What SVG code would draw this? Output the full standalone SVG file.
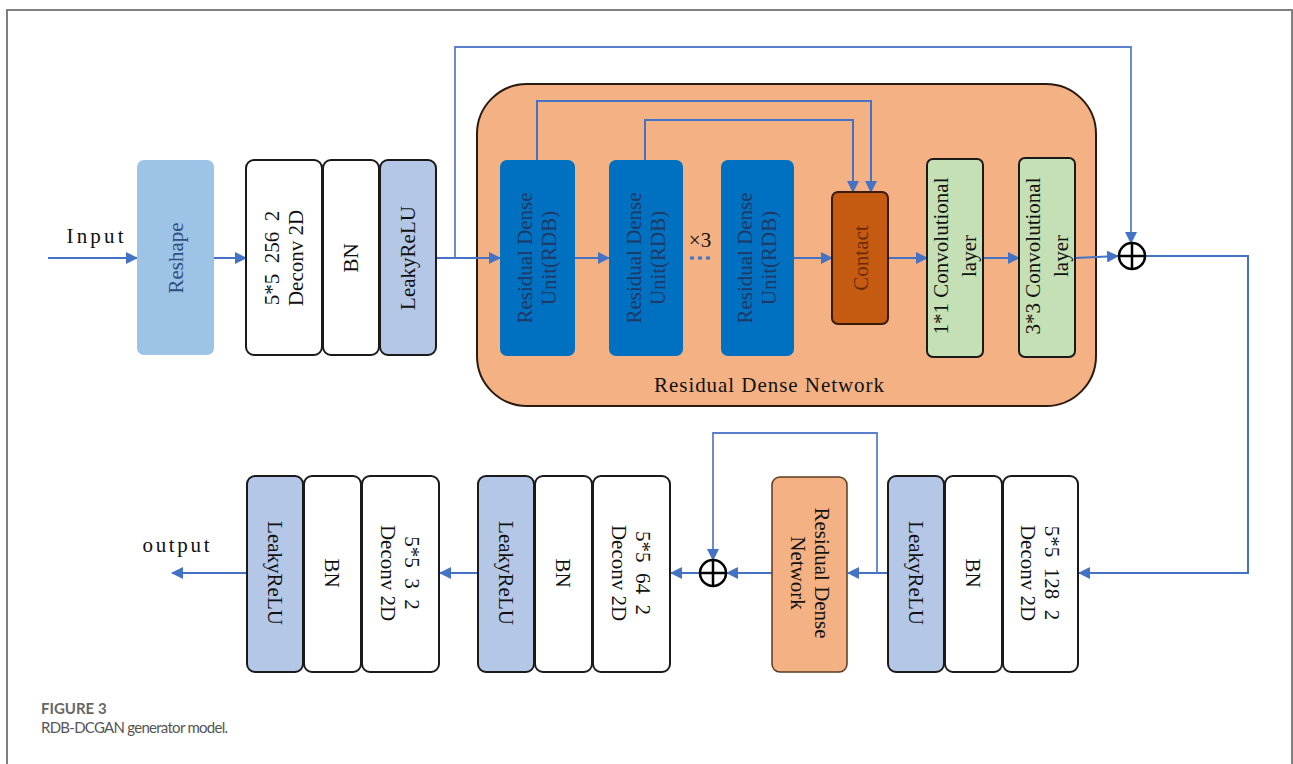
<svg xmlns="http://www.w3.org/2000/svg" width="1293" height="764" viewBox="0 0 1293 764">
<defs>
<marker id="ah" markerWidth="12" markerHeight="12" viewBox="0 0 12 12" refX="11" refY="6" orient="auto" markerUnits="userSpaceOnUse">
<path d="M0,0 L12,6 L0,12 Z" fill="#4472c4"/>
</marker>
<style>
.t{font-family:"Liberation Serif","Times New Roman",serif;font-size:21px;fill:#111;text-anchor:middle;dominant-baseline:central;white-space:pre}
.box{stroke:#1a1a1a;stroke-width:2}
.w{fill:#fff}
.lk{fill:#b4c7e7}
.c{fill:none;stroke:#4472c4;stroke-width:2}
.cl{fill:none;stroke:#5b7fcf;stroke-width:1.8}
.op{fill:none;stroke:#000;stroke-width:2.5}
</style>
</defs>
<rect x="7" y="10" width="1285" height="800" fill="#fff" stroke="#808080" stroke-width="2"/>

<g id="rdn-container">
<rect x="477" y="84" width="619" height="322" rx="50" fill="#f4b183" stroke="#2a1a10" stroke-width="2"/>
<text class="t" x="769" y="385" font-size="23" textLength="230">Residual Dense Network</text>
</g>

<g id="connectors">
<line class="c" x1="48" y1="258" x2="137" y2="258" marker-end="url(#ah)"/>
<line class="c" x1="214" y1="258" x2="246" y2="258" marker-end="url(#ah)"/>
<line class="c" x1="437" y1="258" x2="500" y2="258" marker-end="url(#ah)"/>
<polyline class="cl" points="455,258 455,47 1131,47 1131,243" marker-end="url(#ah)"/>
<line class="c" x1="575" y1="258" x2="609" y2="258" marker-end="url(#ah)"/>
<line class="c" x1="794" y1="258" x2="832" y2="258" marker-end="url(#ah)"/>
<polyline class="c" points="537,160 537,101 871,101 871,192" marker-end="url(#ah)"/>
<polyline class="c" points="645,160 645,120 853,120 853,192" marker-end="url(#ah)"/>
<line class="c" x1="888" y1="258" x2="927" y2="258" marker-end="url(#ah)"/>
<line class="c" x1="983" y1="258" x2="1019" y2="258" marker-end="url(#ah)"/>
<line class="c" x1="1075" y1="258" x2="1118" y2="256" marker-end="url(#ah)"/>
<polyline class="c" points="1145,256 1248,256 1248,573 1079,573" marker-end="url(#ah)"/>
<line class="c" x1="888" y1="573" x2="848" y2="573" marker-end="url(#ah)"/>
<polyline class="cl" points="877,573 877,433 713,433 713,560" marker-end="url(#ah)"/>
<line class="c" x1="772" y1="573" x2="727" y2="573" marker-end="url(#ah)"/>
<line class="c" x1="700" y1="573" x2="671" y2="573" marker-end="url(#ah)"/>
<line class="c" x1="478" y1="573" x2="440" y2="573" marker-end="url(#ah)"/>
<line class="c" x1="247" y1="573" x2="172" y2="573" marker-end="url(#ah)"/>
<line x1="690" y1="258" x2="712" y2="258" stroke="#4472c4" stroke-width="3" stroke-dasharray="4,4"/>
</g>

<g id="labels">
<text class="t" x="95" y="236" font-size="26" textLength="57">Input</text>
<text class="t" x="176" y="545" font-size="26" textLength="67">output</text>
<text class="t" x="700" y="240" font-size="20">×3</text>
</g>

<g id="reshape">
<rect x="137" y="160" width="77" height="195" rx="7" fill="#9dc3e6"/>
<text class="t" transform="translate(176,258) rotate(-90)" font-size="23" style="fill:#2f4f7f">Reshape</text>
</g>

<g id="deconv256">
<rect class="box w" x="246" y="160" width="76" height="195" rx="8"/>
<text class="t" transform="translate(284,258) rotate(-90)" xml:space="preserve"><tspan x="0" y="-12">5*5  256  2</tspan><tspan x="0" y="12">Deconv 2D</tspan></text>
</g>
<g id="bn1">
<rect class="box w" x="323" y="160" width="56" height="195" rx="8"/>
<text class="t" transform="translate(351,258) rotate(-90)">BN</text>
</g>
<g id="leaky1">
<rect class="box lk" x="380" y="160" width="56" height="195" rx="8"/>
<text class="t" transform="translate(408,258) rotate(-90)">LeakyReLU</text>
</g>

<g id="rdb1">
<rect x="500" y="160" width="75" height="196" rx="7" fill="#0070c0"/>
<text class="t" transform="translate(537,258) rotate(-90)" style="fill:#1f3864"><tspan x="0" y="-12">Residual Dense</tspan><tspan x="0" y="12">Unit(RDB)</tspan></text>
</g>
<g id="rdb2">
<rect x="609" y="160" width="74" height="196" rx="7" fill="#0070c0"/>
<text class="t" transform="translate(646,258) rotate(-90)" style="fill:#1f3864"><tspan x="0" y="-12">Residual Dense</tspan><tspan x="0" y="12">Unit(RDB)</tspan></text>
</g>
<g id="rdb3">
<rect x="721" y="160" width="73" height="196" rx="7" fill="#0070c0"/>
<text class="t" transform="translate(757,258) rotate(-90)" style="fill:#1f3864"><tspan x="0" y="-12">Residual Dense</tspan><tspan x="0" y="12">Unit(RDB)</tspan></text>
</g>
<g id="contact">
<rect x="832" y="192" width="56" height="132" rx="6" fill="#c55a11" stroke="#3a1a08" stroke-width="2"/>
<text class="t" transform="translate(861,258) rotate(-90)" style="fill:#6b2a08">Contact</text>
</g>
<g id="conv1">
<rect class="box" x="927" y="159" width="56" height="198" rx="6" fill="#c5e0b4"/>
<text class="t" transform="translate(955,256) rotate(-90)" font-size="22"><tspan x="0" y="-14">1*1 Convolutional</tspan><tspan x="0" y="14">layer</tspan></text>
</g>
<g id="conv3">
<rect class="box" x="1019" y="158" width="56" height="199" rx="6" fill="#c5e0b4"/>
<text class="t" transform="translate(1047,256) rotate(-90)" font-size="22"><tspan x="0" y="-14">3*3 Convolutional</tspan><tspan x="0" y="14">layer</tspan></text>
</g>
<g id="add1">
<circle class="op" cx="1132" cy="256" r="13"/>
<line class="op" x1="1119" y1="256" x2="1145" y2="256"/>
<line class="op" x1="1132" y1="243" x2="1132" y2="269"/>
</g>

<g id="deconv128">
<rect class="box w" x="1003" y="476" width="75" height="196" rx="8"/>
<text class="t" transform="translate(1040,573) rotate(90)" xml:space="preserve"><tspan x="0" y="-12">5*5  128  2</tspan><tspan x="0" y="12">Deconv 2D</tspan></text>
</g>
<g id="bn2">
<rect class="box w" x="945" y="476" width="57" height="196" rx="8"/>
<text class="t" transform="translate(973,573) rotate(90)">BN</text>
</g>
<g id="leaky2">
<rect class="box lk" x="888" y="476" width="56" height="196" rx="8"/>
<text class="t" transform="translate(916,573) rotate(90)">LeakyReLU</text>
</g>
<g id="rdn2">
<rect x="772" y="477" width="75" height="195" rx="8" fill="#f4b183" stroke="#5a3a20" stroke-width="1.5"/>
<text class="t" transform="translate(810,573) rotate(90)" font-size="22"><tspan x="0" y="-12">Residual Dense</tspan><tspan x="0" y="12">Network</tspan></text>
</g>
<g id="add2">
<circle class="op" cx="713" cy="573" r="13"/>
<line class="op" x1="700" y1="573" x2="726" y2="573"/>
<line class="op" x1="713" y1="560" x2="713" y2="586"/>
</g>
<g id="deconv64">
<rect class="box w" x="593" y="476" width="77" height="196" rx="8"/>
<text class="t" transform="translate(631,573) rotate(90)" xml:space="preserve"><tspan x="0" y="-12">5*5  64  2</tspan><tspan x="0" y="12">Deconv 2D</tspan></text>
</g>
<g id="bn3">
<rect class="box w" x="535" y="476" width="57" height="196" rx="8"/>
<text class="t" transform="translate(563,573) rotate(90)">BN</text>
</g>
<g id="leaky3">
<rect class="box lk" x="478" y="476" width="56" height="196" rx="8"/>
<text class="t" transform="translate(506,573) rotate(90)">LeakyReLU</text>
</g>
<g id="deconv3">
<rect class="box w" x="362" y="476" width="77" height="196" rx="8"/>
<text class="t" transform="translate(400,573) rotate(90)" xml:space="preserve"><tspan x="0" y="-12">5*5  3  2</tspan><tspan x="0" y="12">Deconv 2D</tspan></text>
</g>
<g id="bn4">
<rect class="box w" x="304" y="476" width="57" height="196" rx="8"/>
<text class="t" transform="translate(332,573) rotate(90)">BN</text>
</g>
<g id="leaky4">
<rect class="box lk" x="247" y="476" width="56" height="196" rx="8"/>
<text class="t" transform="translate(275,573) rotate(90)">LeakyReLU</text>
</g>

<g id="caption">
<text x="41" y="714" font-family="Lato,'Liberation Sans',sans-serif" font-size="15" font-weight="bold" fill="#666">FIGURE 3</text>
<text x="41" y="733" font-family="Lato,'Liberation Sans',sans-serif" font-size="15" fill="#555" textLength="187">RDB-DCGAN generator model.</text>
</g>
</svg>
